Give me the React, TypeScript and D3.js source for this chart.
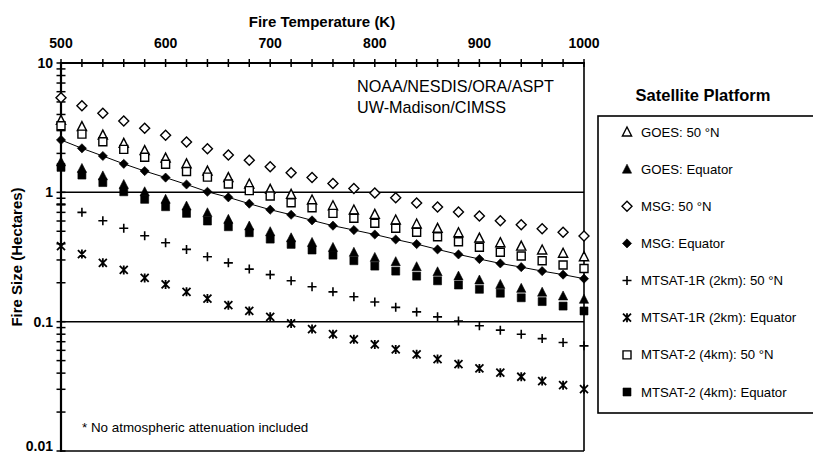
import { useEffect, useRef } from 'react';
import * as d3 from 'd3';

const temps = [500, 520, 540, 560, 580, 600, 620, 640, 660, 680, 700, 720, 740, 760, 780, 800, 820, 840, 860, 880, 900, 920, 940, 960, 980, 1000];

const goes50N = [3.6, 3.22, 2.77, 2.39, 2.1, 1.84, 1.66, 1.46, 1.3, 1.16, 1.055, 0.965, 0.872, 0.787, 0.73, 0.676, 0.611, 0.569, 0.527, 0.487, 0.443, 0.408, 0.384, 0.358, 0.338, 0.318];
const goesEq = [1.72, 1.53, 1.34, 1.15, 1.01, 0.883, 0.783, 0.695, 0.618, 0.549, 0.496, 0.445, 0.41, 0.375, 0.344, 0.314, 0.291, 0.266, 0.243, 0.225, 0.21, 0.194, 0.181, 0.169, 0.158, 0.149];
const msg50N = [5.39, 4.68, 4.08, 3.56, 3.13, 2.76, 2.45, 2.17, 1.94, 1.77, 1.58, 1.42, 1.3, 1.17, 1.07, 0.99, 0.908, 0.827, 0.769, 0.704, 0.656, 0.603, 0.561, 0.523, 0.491, 0.459];
const msgEq = [2.54, 2.19, 1.91, 1.66, 1.46, 1.3, 1.15, 1.01, 0.915, 0.817, 0.734, 0.671, 0.607, 0.552, 0.511, 0.472, 0.432, 0.398, 0.362, 0.331, 0.305, 0.282, 0.264, 0.246, 0.231, 0.215];
const mtsat1r50N = [0.81, 0.7, 0.603, 0.527, 0.462, 0.408, 0.362, 0.318, 0.285, 0.255, 0.231, 0.207, 0.186, 0.17, 0.156, 0.142, 0.129, 0.119, 0.109, 0.101, 0.093, 0.086, 0.08, 0.074, 0.069, 0.065];
const mtsat1rEq = [0.384, 0.333, 0.285, 0.251, 0.218, 0.194, 0.17, 0.151, 0.134, 0.121, 0.109, 0.097, 0.0877, 0.08, 0.073, 0.0667, 0.061, 0.0559, 0.0514, 0.047, 0.0435, 0.0403, 0.0375, 0.0347, 0.0323, 0.0301];
const mtsat250N = [3.27, 2.82, 2.46, 2.15, 1.87, 1.65, 1.45, 1.31, 1.16, 1.03, 0.936, 0.831, 0.76, 0.688, 0.63, 0.576, 0.527, 0.491, 0.454, 0.415, 0.376, 0.344, 0.322, 0.296, 0.274, 0.258];
const mtsat2Eq = [1.56, 1.36, 1.19, 1.01, 0.883, 0.774, 0.688, 0.6, 0.542, 0.487, 0.435, 0.396, 0.358, 0.327, 0.296, 0.269, 0.246, 0.225, 0.207, 0.192, 0.178, 0.166, 0.153, 0.143, 0.132, 0.121];

const seriesNames = [
  'GOES: 50 °N',
  'GOES: Equator',
  'MSG: 50 °N',
  'MSG: Equator',
  'MTSAT-1R (2km): 50 °N',
  'MTSAT-1R (2km): Equator',
  'MTSAT-2 (4km): 50 °N',
  'MTSAT-2 (4km): Equator',
];
const seriesValues = [goes50N, goesEq, msg50N, msgEq, mtsat1r50N, mtsat1rEq, mtsat250N, mtsat2Eq];
const seriesMarkers = ['triOpen', 'triFill', 'diaOpen', 'diaFill', 'plus', 'star', 'sqOpen', 'sqFill'];

const FONT = "'Liberation Sans', Arial, Helvetica, sans-serif";

// marker paths centred on 0,0
const markerPath = (m: string) => {
  switch (m) {
    case 'triOpen':
    case 'triFill':
      return 'M0,-5L4.6,4L-4.6,4Z';
    case 'diaOpen':
      return 'M0,-5L5,0L0,5L-5,0Z';
    case 'diaFill':
      return 'M0,-4.6L4.6,0L0,4.6L-4.6,0Z';
    case 'sqOpen':
    case 'sqFill':
      return 'M-4,-4H4V4H-4Z';
    case 'plus':
      return 'M-4.5,0H4.5M0,-4.5V4.5';
    default:
      return 'M-4,-4L4,4M4,-4L-4,4M0,-4.5V4.5';
  }
};

const applyMarker = (sel: any, m: string) => {
  const open = m.endsWith('Open');
  const line = m === 'plus' || m === 'star';
  sel
    .attr('d', markerPath(m))
    .attr('fill', line ? 'none' : open ? '#fff' : '#000')
    .attr('stroke', '#000')
    .attr('stroke-width', m === 'star' ? 1.8 : line ? 1.6 : open ? 1.4 : 0.6)
    .attr('stroke-linejoin', 'miter');
};

const App = () => {
  const svgRef = useRef<SVGSVGElement>(null);

  useEffect(() => {
    const svg = d3.select(svgRef.current);
    svg.selectAll('*').remove();

    const x = d3.scaleLinear().domain([500, 1000]).range([61, 584]);
    const y = d3.scaleLog().domain([0.01, 10]).range([451, 63]);

    const g = svg.append('g').attr('font-family', FONT);

    // grid lines at 1 and 0.1
    g.selectAll('.grid')
      .data([1, 0.1])
      .enter()
      .append('line')
      .attr('x1', x(500))
      .attr('x2', x(1000))
      .attr('y1', (d) => y(d))
      .attr('y2', (d) => y(d))
      .attr('stroke', '#000')
      .attr('stroke-width', 1.5);

    // right + bottom border
    g.append('line')
      .attr('x1', x(1000)).attr('x2', x(1000))
      .attr('y1', y(10)).attr('y2', y(0.01))
      .attr('stroke', '#000').attr('stroke-width', 1.6);
    g.append('line')
      .attr('x1', x(500)).attr('x2', x(1000))
      .attr('y1', y(0.01)).attr('y2', y(0.01))
      .attr('stroke', '#000').attr('stroke-width', 1.6);

    // top axis
    g.append('line')
      .attr('x1', x(500) - 1).attr('x2', x(1000) + 1)
      .attr('y1', y(10)).attr('y2', y(10))
      .attr('stroke', '#000').attr('stroke-width', 2.2);
    g.selectAll('.xtick')
      .data(temps)
      .enter()
      .append('line')
      .attr('x1', (d) => x(d)).attr('x2', (d) => x(d))
      .attr('y1', y(10) - 4).attr('y2', y(10) + 4)
      .attr('stroke', '#000').attr('stroke-width', 1.5);
    g.selectAll('.xlabel')
      .data(x.ticks(5))
      .enter()
      .append('text')
      .attr('x', (d) => x(d))
      .attr('y', 48)
      .attr('text-anchor', 'middle')
      .attr('font-size', 14)
      .attr('font-weight', 'bold')
      .text((d) => d);
    g.append('text')
      .attr('x', 322).attr('y', 27)
      .attr('text-anchor', 'middle')
      .attr('font-size', 15).attr('font-weight', 'bold')
      .text('Fire Temperature (K)');

    // left axis
    g.append('line')
      .attr('x1', x(500)).attr('x2', x(500))
      .attr('y1', y(10) - 1).attr('y2', y(0.01) + 1)
      .attr('stroke', '#000').attr('stroke-width', 2.2);
    g.selectAll('.ytick')
      .data(y.ticks())
      .enter()
      .append('line')
      .attr('x1', x(500) - 4.5).attr('x2', x(500) + 4.5)
      .attr('y1', (d) => y(d)).attr('y2', (d) => y(d))
      .attr('stroke', '#000').attr('stroke-width', 1.5);
    g.selectAll('.ylabel')
      .data([10, 1, 0.1, 0.01])
      .enter()
      .append('text')
      .attr('x', 53)
      .attr('y', (d) => Math.min(y(d), 446))
      .attr('dy', '0.35em')
      .attr('text-anchor', 'end')
      .attr('font-size', 14)
      .attr('font-weight', 'bold')
      .text((d) => String(d));
    g.append('text')
      .attr('transform', 'translate(22,257) rotate(-90)')
      .attr('text-anchor', 'middle')
      .attr('font-size', 15).attr('font-weight', 'bold')
      .text('Fire Size (Hectares)');

    // notes
    g.append('text').attr('x', 357).attr('y', 92).attr('font-size', 16.2).text('NOAA/NESDIS/ORA/ASPT');
    g.append('text').attr('x', 357).attr('y', 113).attr('font-size', 16.2).text('UW-Madison/CIMSS');
    g.append('text').attr('x', 82).attr('y', 432).attr('font-size', 13.4).text('* No atmospheric attenuation included');

    // MSG equator line
    const line = d3
      .line<number>()
      .x((_, i) => x(temps[i]))
      .y((d) => y(d));
    g.append('path')
      .attr('d', line(msgEq))
      .attr('fill', 'none')
      .attr('stroke', '#000')
      .attr('stroke-width', 1);

    // markers
    seriesValues.forEach((vals, si) => {
      const m = seriesMarkers[si];
      g.append('g')
        .selectAll('path')
        .data(vals)
        .enter()
        .append('path')
        .attr('transform', (d, i) => `translate(${x(temps[i])},${y(d)})`)
        .call(applyMarker, m);
    });

    // legend
    const lg = g.append('g');
    lg.append('rect')
      .attr('x', 598).attr('y', 116)
      .attr('width', 230).attr('height', 297)
      .attr('fill', 'none').attr('stroke', '#000').attr('stroke-width', 1.6);
    lg.append('text')
      .attr('x', 703).attr('y', 101)
      .attr('text-anchor', 'middle')
      .attr('font-size', 16.5).attr('font-weight', 'bold')
      .text('Satellite Platform');
    const ly = d3.scalePoint().domain(seriesNames).range([132, 392]);
    seriesNames.forEach((name, i) => {
      lg.append('path')
        .attr('transform', `translate(627,${ly(name)})`)
        .call(applyMarker, seriesMarkers[i]);
      lg.append('text')
        .attr('x', 641).attr('y', ly(name))
        .attr('dy', '0.35em')
        .attr('font-size', 13.2)
        .text(name);
    });
  }, []);

  return (
    <svg
      ref={svgRef}
      width={813}
      height={453}
      style={{ position: 'absolute', left: 0, top: 0, background: '#fff' }}
    />
  );
};

export default App;
